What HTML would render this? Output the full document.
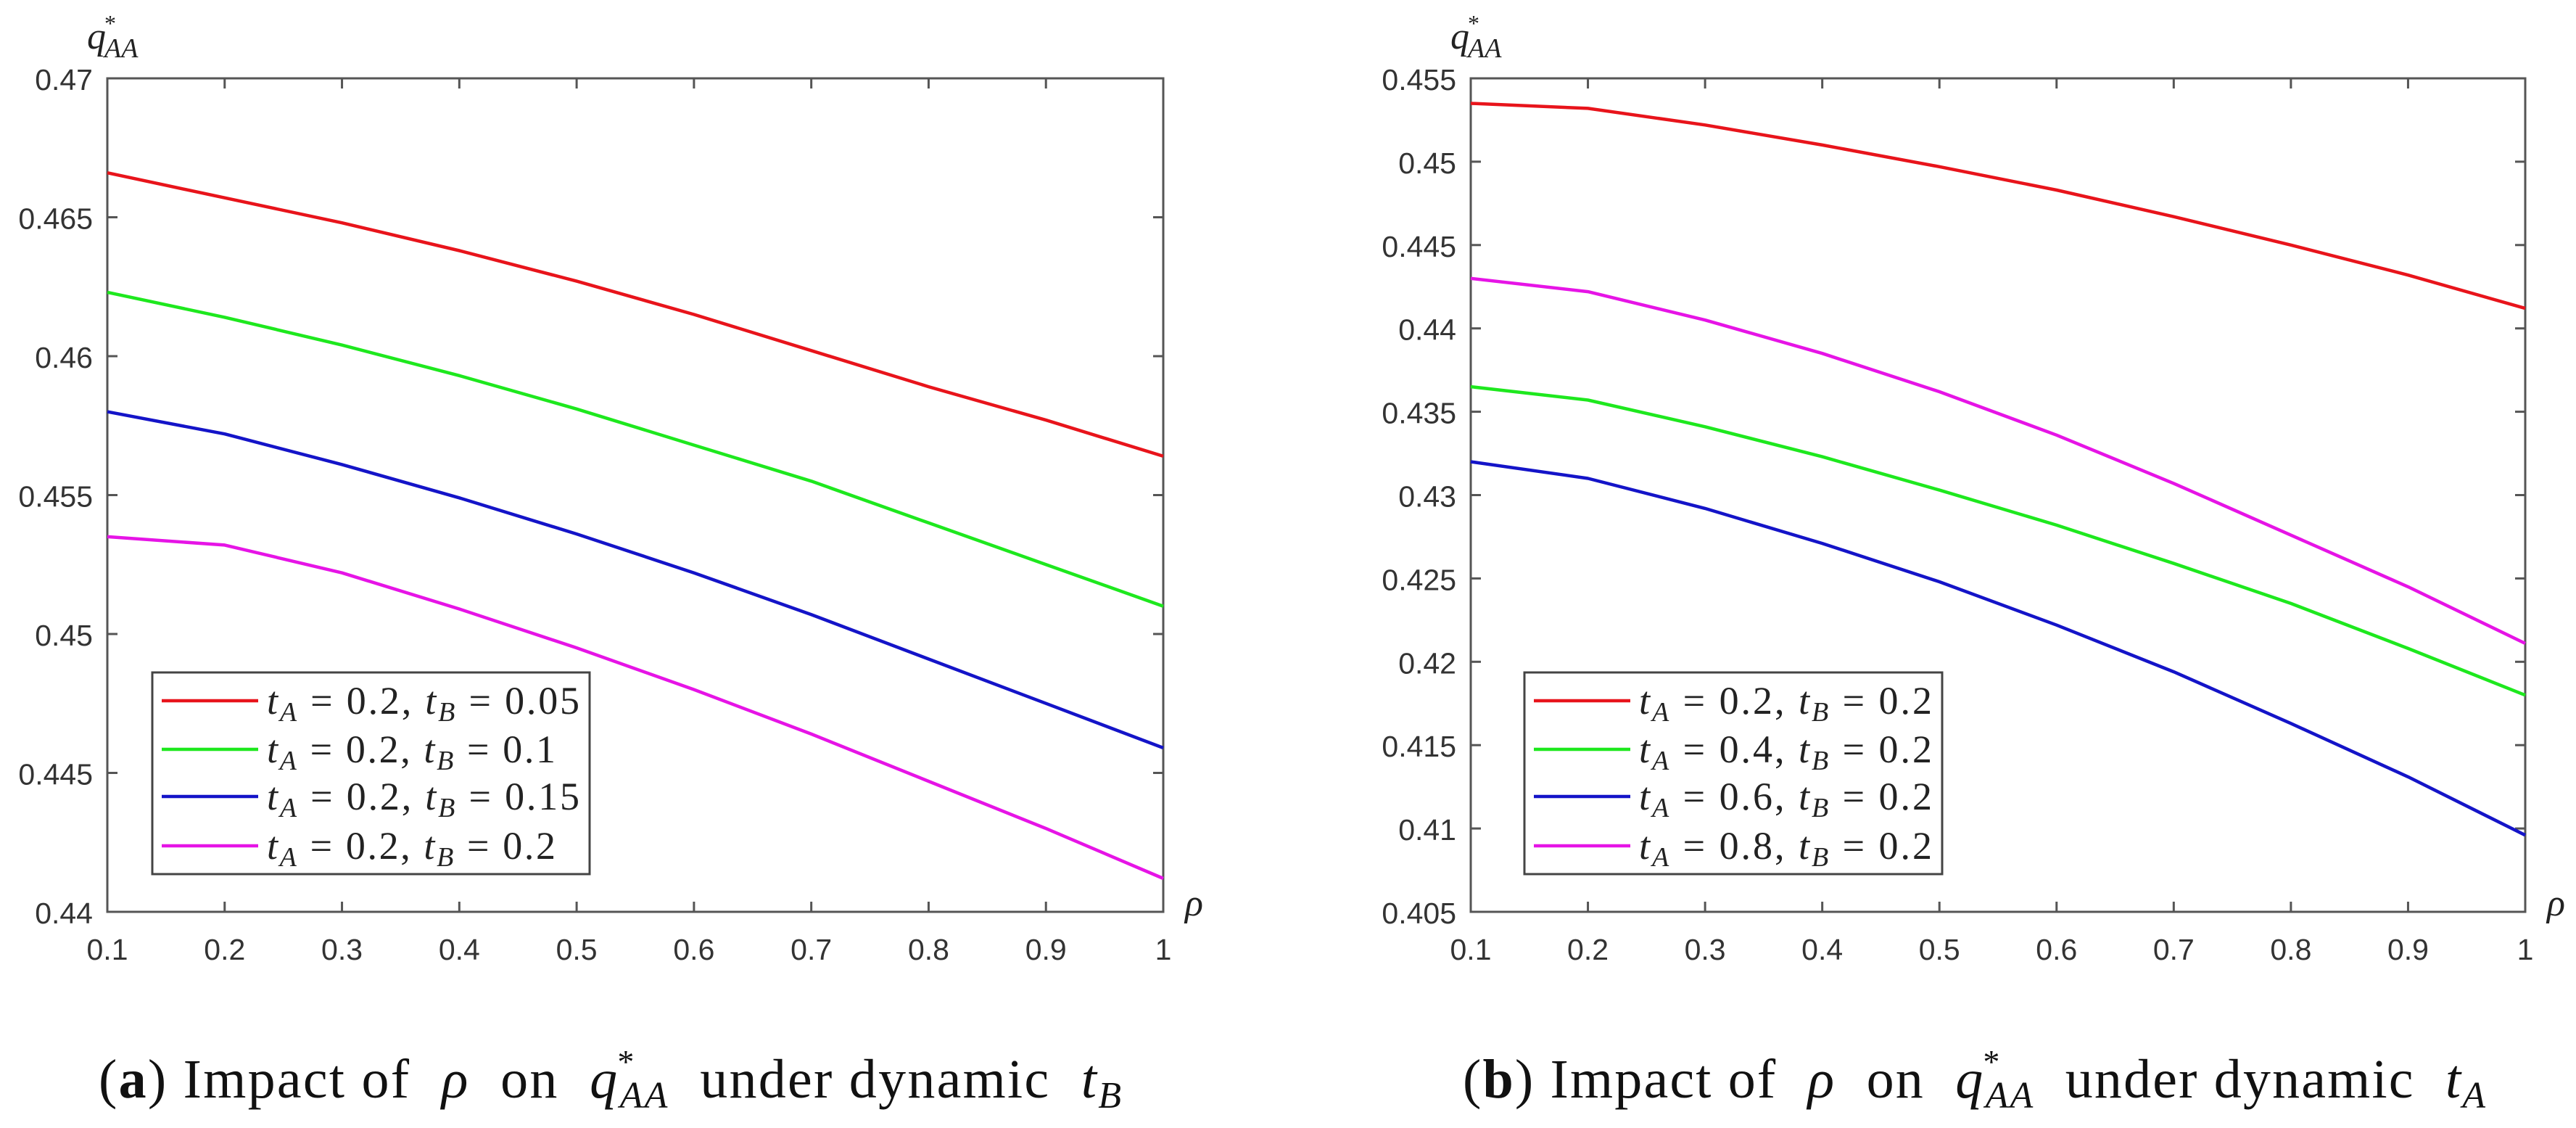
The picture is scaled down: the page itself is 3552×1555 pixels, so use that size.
<!DOCTYPE html>
<html><head><meta charset="utf-8"><style>
html,body{margin:0;padding:0;background:#fff;}
svg{display:block;}
text{white-space:pre;}
</style></head><body>
<svg id="fig" xmlns="http://www.w3.org/2000/svg" width="3552" height="1555" viewBox="0 0 3552 1555">
<rect x="0" y="0" width="3552" height="1555" fill="#fff"/>
</svg>
<script>
const xTicks = [0.1,0.2,0.3,0.4,0.5,0.6,0.7,0.8,0.9,1];
const xTickLabels = ["0.1","0.2","0.3","0.4","0.5","0.6","0.7","0.8","0.9","1"];
const rhoValues = [0.1,0.2,0.3,0.4,0.5,0.6,0.7,0.8,0.9,1.0];

const yTicksA = [0.44,0.445,0.45,0.455,0.46,0.465,0.47];
const yTickLabelsA = ["0.44","0.445","0.45","0.455","0.46","0.465","0.47"];
const seriesA_tb005 = [0.4666,0.4657,0.4648,0.4638,0.4627,0.4615,0.4602,0.4589,0.4577,0.4564];
const seriesA_tb010 = [0.4623,0.4614,0.4604,0.4593,0.4581,0.4568,0.4555,0.4540,0.4525,0.4510];
const seriesA_tb015 = [0.4580,0.4572,0.4561,0.4549,0.4536,0.4522,0.4507,0.4491,0.4475,0.4459];
const seriesA_tb020 = [0.4535,0.4532,0.4522,0.4509,0.4495,0.4480,0.4464,0.4447,0.4430,0.4412];
const legendA = [["0.2","0.05"],["0.2","0.1"],["0.2","0.15"],["0.2","0.2"]];

const yTicksB = [0.405,0.41,0.415,0.42,0.425,0.43,0.435,0.44,0.445,0.45,0.455];
const yTickLabelsB = ["0.405","0.41","0.415","0.42","0.425","0.43","0.435","0.44","0.445","0.45","0.455"];
const seriesB_ta02 = [0.4535,0.4532,0.4522,0.4510,0.4497,0.4483,0.4467,0.4450,0.4432,0.4412];
const seriesB_ta04 = [0.4365,0.4357,0.4341,0.4323,0.4303,0.4282,0.4259,0.4235,0.4208,0.4180];
const seriesB_ta06 = [0.4320,0.4310,0.4292,0.4271,0.4248,0.4222,0.4194,0.4163,0.4131,0.4096];
const seriesB_ta08 = [0.4430,0.4422,0.4405,0.4385,0.4362,0.4336,0.4307,0.4276,0.4245,0.4211];
const legendB = [["0.2","0.2"],["0.4","0.2"],["0.6","0.2"],["0.8","0.2"]];

const colors = ["#e8141b","#1ee81e","#1414c8","#e614e6"];
const NS = "http://www.w3.org/2000/svg";
const svg = document.getElementById("fig");
function mk(tag, attrs, parent){
  const e = document.createElementNS(NS, tag);
  for (const k in attrs) e.setAttribute(k, attrs[k]);
  (parent||svg).appendChild(e);
  return e;
}
function tspan(parent, txt, attrs){
  const t = mk("tspan", attrs||{}, parent);
  t.textContent = txt;
  return t;
}

function panel(cfg){
  const g = mk("g", {});
  
  
  const L = cfg.x0, R = cfg.x1, T = 108, B = 1257;
  const xs = v => L + (v - 0.1) / 0.9 * (R - L);
  const ys = v => B - (v - cfg.ymin) / (cfg.ymax - cfg.ymin) * (B - T);
  const frame = mk("rect", {x:L, y:T, width:R-L, height:B-T, fill:"none", stroke:"#555", "stroke-width":3}, g);
  
  
  xTicks.forEach((v,i) => {
    const x = xs(v);
    mk("line", {x1:x, y1:B, x2:x, y2:B-14, stroke:"#555", "stroke-width":3}, g);
    mk("line", {x1:x, y1:T, x2:x, y2:T+14, stroke:"#555", "stroke-width":3}, g);
    const t = mk("text", {x:x, y:1323, "text-anchor":"middle", "font-family":"Liberation Sans, sans-serif", "font-size":41, fill:"#333"}, g);
    t.textContent = xTickLabels[i];
    
    
  });
  cfg.yTicks.forEach((v,i) => {
    const y = ys(v);
    mk("line", {x1:L, y1:y, x2:L+14, y2:y, stroke:"#555", "stroke-width":3}, g);
    mk("line", {x1:R, y1:y, x2:R-14, y2:y, stroke:"#555", "stroke-width":3}, g);
    const t = mk("text", {x:L-20, y:y+16, "text-anchor":"end", "font-family":"Liberation Sans, sans-serif", "font-size":41, fill:"#333"}, g);
    t.textContent = cfg.yLabels[i];
    
    
  });
  cfg.series.forEach((s,k) => {
    const d = rhoValues.map((r,i) => (i?"L":"M") + xs(r).toFixed(1) + " " + ys(s[i]).toFixed(1)).join(" ");
    const p = mk("path", {d:d, fill:"none", stroke:colors[k], "stroke-width":4.5, "stroke-linejoin":"round"}, g);
    
    
  });
  const yt = mk("text", {x:L-28, y:67, "font-family":"Liberation Serif, serif", "font-style":"italic", "font-size":52, fill:"#222"}, g);
  
  
  tspan(yt, "q");
  tspan(yt, "*", {"font-size":32, "font-style":"normal", dx:-2, dy:-24});
  tspan(yt, "AA", {"font-size":38, dx:-16, dy:36});
  const xt = mk("text", {x:R+30, y:1262, "font-family":"Liberation Serif, serif", "font-style":"italic", "font-size":52, fill:"#222"}, g);
  xt.textContent = "ρ";
  
  
  const lg = mk("g", {}, g);
  
  
  mk("rect", {x:cfg.lx, y:927, width:cfg.lw, height:278, fill:"#fff", stroke:"#444", "stroke-width":3}, lg);
  const rows = [966,1033,1098,1166];
  cfg.legend.forEach((e,k) => {
    const ent = mk("g", {}, lg);
    
    
    mk("line", {x1:cfg.lx+13, y1:rows[k], x2:cfg.lx+146, y2:rows[k], stroke:colors[k], "stroke-width":4.5}, ent);
    const t = mk("text", {x:cfg.lx+158, y:rows[k]+18, "font-family":"Liberation Serif, serif", "font-size":54, fill:"#222",
      textLength:cfg.tw[k], lengthAdjust:"spacing"}, ent);
    tspan(t, "t", {"font-style":"italic"});
    tspan(t, "A", {"font-style":"italic", "font-size":38, dy:10});
    tspan(t, " = " + e[0] + ", ", {dy:-10});
    tspan(t, "t", {"font-style":"italic"});
    tspan(t, "B", {"font-style":"italic", "font-size":38, dy:10});
    tspan(t, " = " + e[1], {dy:-10});
  });
  const c = mk("text", {x:cfg.cx, y:1513, "font-family":"Liberation Serif, serif", "font-size":76, fill:"#111",
    textLength:1410, lengthAdjust:"spacing"}, g);
  
  
  tspan(c, "(");
  tspan(c, cfg.letter, {"font-weight":"bold"});
  tspan(c, ") Impact of  ");
  tspan(c, "ρ", {"font-style":"italic"});
  tspan(c, "  on  ");
  tspan(c, "q", {"font-style":"italic"});
  tspan(c, "*", {"font-size":46, dy:-34, dx:-2});
  tspan(c, "AA", {"font-style":"italic", "font-size":52, dy:48, dx:-22});
  tspan(c, "  under dynamic  ", {dy:-14});
  tspan(c, "t", {"font-style":"italic"});
  tspan(c, cfg.sub, {"font-style":"italic", "font-size":52, dy:14});
}

panel({name:"chart-a", x0:148, x1:1604, ymin:0.44, ymax:0.47, yTicks:yTicksA, yLabels:yTickLabelsA,
  series:[seriesA_tb005,seriesA_tb010,seriesA_tb015,seriesA_tb020], legend:legendA, lx:210, lw:603,
  tw:[431,398,431,398], cx:136, letter:"a", sub:"B"});
panel({name:"chart-b", x0:2028, x1:3482, ymin:0.405, ymax:0.455, yTicks:yTicksB, yLabels:yTickLabelsB,
  series:[seriesB_ta02,seriesB_ta04,seriesB_ta06,seriesB_ta08], legend:legendB, lx:2102, lw:576,
  tw:[404,404,404,404], cx:2017, letter:"b", sub:"A"});
</script>
</body></html>
